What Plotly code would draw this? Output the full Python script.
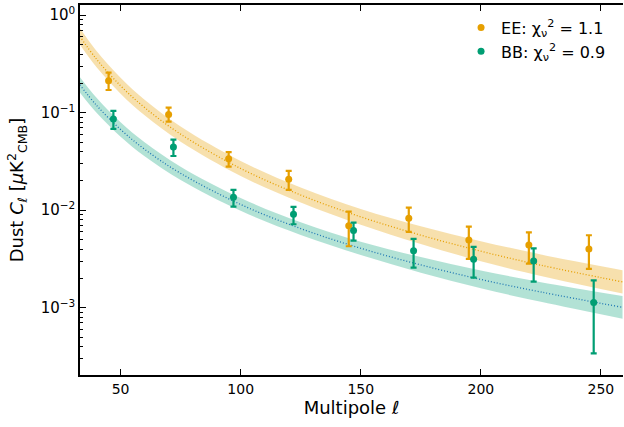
import plotly.graph_objects as go

# Binned dust power spectra (EE and BB) with asymmetric 1-sigma limits
ell_ee = [45, 70, 95, 120, 145, 170, 195, 220, 245]
cl_ee = [0.213, 0.0957, 0.0338, 0.0208, 0.00695, 0.00828, 0.00496, 0.00441, 0.00401]
cl_ee_hi = [0.258, 0.113, 0.0394, 0.0253, 0.00968, 0.01064, 0.00679, 0.00594, 0.00554]
cl_ee_lo = [0.171, 0.081, 0.028, 0.0162, 0.00427, 0.0060, 0.00317, 0.00283, 0.0025]

ell_bb = [47, 72, 97, 122, 147, 172, 197, 222, 247]
cl_bb = [0.0863, 0.0446, 0.0136, 0.0091, 0.00618, 0.00385, 0.00314, 0.00302, 0.00113]
cl_bb_hi = [0.1043, 0.053, 0.0162, 0.0108, 0.00746, 0.00508, 0.0042, 0.00407, 0.00191]
cl_bb_lo = [0.0682, 0.036, 0.0109, 0.00718, 0.00488, 0.00258, 0.00204, 0.00185, 0.00034]

# Best-fit power-law models and their uncertainty envelopes
ell_model = [33, 40, 50, 60, 75, 100, 125, 150, 175, 200, 225, 259]
ee_model = [0.609, 0.354, 0.189, 0.113, 0.0603, 0.0268, 0.01432, 0.00855, 0.00555, 0.00380, 0.00273, 0.00184]
ee_band_hi = [0.741, 0.429, 0.228, 0.1358, 0.0722, 0.0320, 0.0171, 0.01028, 0.00683, 0.00482, 0.00352, 0.00243]
ee_band_lo = [0.501, 0.292, 0.157, 0.0940, 0.0504, 0.02245, 0.0120, 0.00711, 0.00451, 0.00300, 0.00212, 0.00140]
bb_model = [0.194, 0.119, 0.0673, 0.0422, 0.0239, 0.01146, 0.00648, 0.00407, 0.00275, 0.00195, 0.00145, 0.00101]
bb_band_hi = [0.2332, 0.1421, 0.0798, 0.0497, 0.0280, 0.01334, 0.00752, 0.00476, 0.00331, 0.00241, 0.00183, 0.00132]
bb_band_lo = [0.1614, 0.0997, 0.0567, 0.0358, 0.0204, 0.00985, 0.00558, 0.00348, 0.00229, 0.00158, 0.00115, 0.00077]

labels = ["EE: χ<sub>ν</sub><sup>2</sup> = 1.1", "BB: χ<sub>ν</sub><sup>2</sup> = 0.9"]

# Axis ticks
x_ticks = [50, 100, 150, 200, 250]
y_ticks = [1e-3, 1e-2, 1e-1, 1e0]
y_ticktext = ["10<sup>−3</sup>", "10<sup>−2</sup>", "10<sup>−1</sup>", "10<sup>0</sup>"]
y_minor = [m * 10.0 ** e for e in (-4, -3, -2, -1, 0) for m in range(2, 10)]

ORANGE = "#E69F00"
GREEN = "#009E73"
BLUE = "#1f77b4"
FONT = "DejaVu Sans"
YRANGE = [-3.69, 0.105]

fig = go.Figure()


def add_band(lo, hi, fill):
    fig.add_trace(go.Scatter(x=ell_model, y=lo, mode="lines", line=dict(width=0, shape="spline"),
                             showlegend=False, hoverinfo="skip"))
    fig.add_trace(go.Scatter(x=ell_model, y=hi, mode="lines", line=dict(width=0, shape="spline"),
                             fill="tonexty", fillcolor=fill, showlegend=False, hoverinfo="skip"))


add_band(ee_band_lo, ee_band_hi, "rgba(230,159,0,0.32)")
add_band(bb_band_lo, bb_band_hi, "rgba(0,158,115,0.30)")

fig.add_trace(go.Scatter(x=ell_model, y=ee_model, mode="lines",
                         line=dict(color=ORANGE, width=1.3, dash="1px,2px", shape="spline"),
                         showlegend=False, hoverinfo="skip"))
fig.add_trace(go.Scatter(x=ell_model, y=bb_model, mode="lines",
                         line=dict(color=BLUE, width=1.3, dash="1px,2px", shape="spline"),
                         showlegend=False, hoverinfo="skip"))


def add_points(ell, cl, hi, lo, color, name):
    fig.add_trace(go.Scatter(
        x=ell, y=cl, mode="markers", name=name, legendgroup=name,
        marker=dict(color=color, size=7),
        error_y=dict(type="data", symmetric=False,
                     array=[h - c for h, c in zip(hi, cl)],
                     arrayminus=[c - l for c, l in zip(cl, lo)],
                     color=color, thickness=2.2, width=3),
    ))


add_points(ell_ee, cl_ee, cl_ee_hi, cl_ee_lo, ORANGE, labels[0])
add_points(ell_bb, cl_bb, cl_bb_hi, cl_bb_lo, GREEN, labels[1])

axis_common = dict(showline=True, linecolor="black", linewidth=1.5, showgrid=False, zeroline=False,
                   ticks="inside", tickcolor="black", tickwidth=1.3, ticklen=6)

fig.update_layout(
    width=624, height=427,
    margin=dict(l=80, r=1, t=5, b=52),
    paper_bgcolor="white", plot_bgcolor="white",
    font=dict(family=FONT, color="black"),
    xaxis=dict(range=[33.1, 259.2], tickvals=x_ticks, mirror="ticks",
               tickfont=dict(family=FONT, size=14, color="black"),
               title=dict(text="Multipole <i>ℓ</i>", font=dict(family=FONT, size=18, color="black"),
                          standoff=4),
               **axis_common),
    yaxis=dict(type="log", range=YRANGE, tickmode="array", tickvals=y_ticks, ticktext=y_ticktext,
               tickfont=dict(family=FONT, size=15, color="black"),
               minor=dict(tickmode="array", tickvals=y_minor, ticks="inside", ticklen=3,
                          tickwidth=1, tickcolor="black", showgrid=False),
               title=dict(text="Dust <i>C</i><sub><i>ℓ</i></sub> [<i>μ</i>K<sup>2</sup><sub>CMB</sub>]",
                          font=dict(family=FONT, size=18, color="black"), standoff=12),
               **axis_common),
    yaxis2=dict(type="log", range=YRANGE, tickmode="array", tickvals=y_ticks, overlaying="y", side="right",
                showticklabels=False, showline=True, linecolor="black", linewidth=1.5,
                ticks="inside", tickcolor="black", tickwidth=1.3, ticklen=6, showgrid=False),
    legend=dict(x=0.978, xanchor="right", y=0.985, yanchor="top", bgcolor="rgba(0,0,0,0)",
                traceorder="normal", tracegroupgap=12,
                font=dict(family=FONT, size=16, color="black")),
)

fig.write_html("out.html")
